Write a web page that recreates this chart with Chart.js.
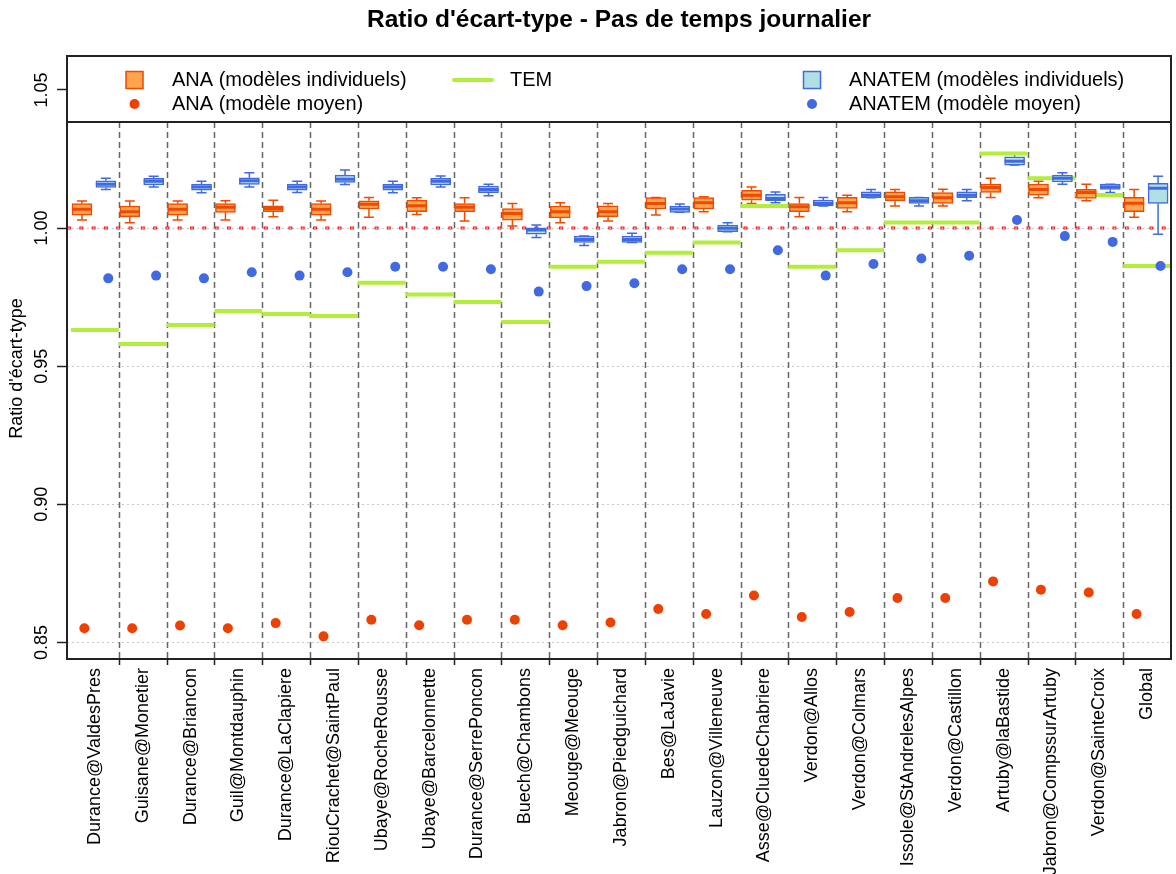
<!DOCTYPE html>
<html><head><meta charset="utf-8">
<script src="https://cdn.jsdelivr.net/npm/chart.js@4.4.1/dist/chart.umd.min.js"></script>
<style>html,body{margin:0;padding:0;background:#fff}canvas{display:block}</style>
</head><body>
<canvas id="c" width="1176" height="874"></canvas>
<script>
// ---------- DATA ----------
const categories = ["Durance@ValdesPres","Guisane@Monetier","Durance@Briancon","Guil@Montdauphin","Durance@LaClapiere","RiouCrachet@SaintPaul","Ubaye@RocheRousse","Ubaye@Barcelonnette","Durance@SerrePoncon","Buech@Chambons","Meouge@Meouge","Jabron@Piedguichard","Bes@LaJavie","Lauzon@Villeneuve","Asse@CluedeChabriere","Verdon@Allos","Verdon@Colmars","Issole@StAndrelesAlpes","Verdon@Castillon","Artuby@laBastide","Jabron@CompssurArtuby","Verdon@SainteCroix","Global"];

const anaMin = [1.0029,1.0019,1.0029,1.0029,1.0041,1.0029,1.0039,1.0049,1.0026,1.0008,1.0019,1.0026,1.0047,1.0059,1.0089,1.0041,1.0059,1.0080,1.0080,1.0111,1.0110,1.0099,1.0039];
const anaQ1  = [1.0047,1.0041,1.0047,1.0057,1.0059,1.0047,1.0069,1.0059,1.0059,1.0029,1.0037,1.0041,1.0069,1.0069,1.0101,1.0059,1.0071,1.0099,1.0089,1.0129,1.0119,1.0107,1.0059];
const anaMed = [1.0068,1.0059,1.0068,1.0075,1.0071,1.0068,1.0086,1.0081,1.0075,1.0053,1.0059,1.0059,1.0089,1.0092,1.0119,1.0077,1.0092,1.0113,1.0110,1.0147,1.0140,1.0129,1.0090];
const anaQ3  = [1.0089,1.0080,1.0089,1.0089,1.0081,1.0089,1.0099,1.0101,1.0089,1.0071,1.0080,1.0081,1.0110,1.0110,1.0137,1.0089,1.0111,1.0131,1.0129,1.0159,1.0159,1.0140,1.0111];
const anaMax = [1.0098,1.0098,1.0098,1.0099,1.0101,1.0098,1.0111,1.0110,1.0110,1.0089,1.0092,1.0089,1.0111,1.0113,1.0149,1.0111,1.0119,1.0140,1.0141,1.0180,1.0170,1.0159,1.0140];

const anatemMin = [1.0140,1.0149,1.0128,1.0149,1.0129,1.0158,1.0128,1.0149,1.0117,0.9966,0.9937,0.9948,1.0057,0.9987,1.0092,1.0080,1.0110,1.0080,1.0099,1.0228,1.0159,1.0129,0.9978];
const anatemQ1  = [1.0147,1.0156,1.0137,1.0158,1.0137,1.0165,1.0137,1.0156,1.0128,0.9978,0.9948,0.9948,1.0057,0.9987,1.0099,1.0080,1.0110,1.0089,1.0110,1.0228,1.0167,1.0140,1.0089];
const anatemMed = [1.0159,1.0170,1.0149,1.0171,1.0149,1.0177,1.0149,1.0170,1.0140,0.9993,0.9959,0.9959,1.0069,0.9999,1.0107,1.0089,1.0119,1.0099,1.0119,1.0242,1.0180,1.0149,1.0144];
const anatemQ3  = [1.0171,1.0180,1.0159,1.0182,1.0159,1.0192,1.0159,1.0180,1.0152,1.0001,0.9971,0.9971,1.0080,1.0011,1.0122,1.0101,1.0131,1.0111,1.0131,1.0258,1.0192,1.0159,1.0162];
const anatemMax = [1.0180,1.0188,1.0170,1.0200,1.0170,1.0210,1.0170,1.0189,1.0159,1.0011,0.9971,0.9981,1.0087,1.0019,1.0131,1.0111,1.0140,1.0111,1.0140,1.0268,1.0200,1.0159,1.0188];

const anaMean    = [0.8551,0.8551,0.8561,0.8551,0.8570,0.8522,0.8582,0.8562,0.8582,0.8582,0.8562,0.8572,0.8621,0.8603,0.8670,0.8592,0.8610,0.8661,0.8661,0.8721,0.8691,0.8681,0.8603];
const anatemMean = [0.9818,0.9828,0.9818,0.9840,0.9828,0.9840,0.9860,0.9860,0.9851,0.9770,0.9790,0.9800,0.9851,0.9851,0.9920,0.9828,0.9870,0.9890,0.9900,1.0029,0.9971,0.9950,0.9863];
const tem        = [0.9631,0.9580,0.9649,0.9700,0.9689,0.9682,0.9802,0.9760,0.9732,0.9660,0.9860,0.9878,0.9911,0.9948,1.0080,0.9860,0.9920,1.0020,1.0020,1.0270,1.0180,1.0120,0.9863];

const yTicks = [0.85, 0.90, 0.95, 1.00, 1.05];
const refValue = 1.00;

const titleText = "Ratio d'écart-type - Pas de temps journalier";
const yTitle = "Ratio d'écart-type";
const legendLabels = ["ANA (modèles individuels)", "ANA (modèle moyen)", "TEM", "ANATEM (modèles individuels)", "ANATEM (modèle moyen)"];

// ---------- STYLE ----------
const FONT = '"Liberation Sans", Arial, sans-serif';
const C_ANA = '#F04A00', C_ANA_FILL = '#FFA54F', C_ANA_PT = '#EE4000';
const C_TEM_B = '#4169E1', C_TEM_FILL = '#B0E0E6';
const C_GREEN = '#B3EE3A';
const ANA_OFF = -0.27, ANATEM_OFF = 0.23, DOT_SHIFT = 0.05;
const BOX_W = 20, CAP_HW = 5, LEGEND_H = 66;

const temData = [];
tem.forEach((v, i) => { temData.push({x: i - 0.5, y: v}, {x: i + 0.5, y: v}, {x: i + 0.5, y: null}); });

function drawWhiskers(ctx, xs, ys, off, lo, q1, q3, hi, color) {
  ctx.save();
  ctx.strokeStyle = color; ctx.lineWidth = 1.5;
  ctx.beginPath();
  categories.forEach((_, i) => {
    const cx = xs.getPixelForValue(i + off);
    ctx.moveTo(cx, ys.getPixelForValue(q3[i])); ctx.lineTo(cx, ys.getPixelForValue(hi[i]));
    ctx.moveTo(cx, ys.getPixelForValue(q1[i])); ctx.lineTo(cx, ys.getPixelForValue(lo[i]));
    ctx.moveTo(cx - CAP_HW, ys.getPixelForValue(hi[i])); ctx.lineTo(cx + CAP_HW, ys.getPixelForValue(hi[i]));
    ctx.moveTo(cx - CAP_HW, ys.getPixelForValue(lo[i])); ctx.lineTo(cx + CAP_HW, ys.getPixelForValue(lo[i]));
  });
  ctx.stroke();
  ctx.restore();
}
function drawMedians(ctx, xs, ys, off, med, color) {
  ctx.save();
  ctx.strokeStyle = color; ctx.lineWidth = 3;
  ctx.beginPath();
  categories.forEach((_, i) => {
    const cx = xs.getPixelForValue(i + off), py = ys.getPixelForValue(med[i]);
    ctx.moveTo(cx - BOX_W / 2, py); ctx.lineTo(cx + BOX_W / 2, py);
  });
  ctx.stroke();
  ctx.restore();
}

const decor = {
  id: 'decor',
  beforeDatasetsDraw(chart) {
    const {ctx, chartArea: a, scales: {x, y}} = chart;
    ctx.save();
    ctx.strokeStyle = '#666666'; ctx.lineWidth = 1.5; ctx.setLineDash([6, 4]);
    ctx.beginPath();
    for (let i = 0; i < categories.length - 1; i++) {
      const px = Math.round(x.getPixelForValue(i + 0.5)) + 0.5;
      ctx.moveTo(px, a.top + LEGEND_H); ctx.lineTo(px, a.bottom);
    }
    ctx.stroke();
    const ry = y.getPixelForValue(refValue);
    ctx.setLineDash([4, 8.3]);
    ctx.strokeStyle = '#FF1a1a'; ctx.lineWidth = 3;
    ctx.beginPath(); ctx.moveTo(a.left, ry); ctx.lineTo(a.right, ry); ctx.stroke();
    ctx.setLineDash([1.6, 10.7]); ctx.lineDashOffset = -1.2;
    ctx.strokeStyle = '#ffffff'; ctx.lineWidth = 1;
    ctx.beginPath(); ctx.moveTo(a.left, ry); ctx.lineTo(a.right, ry); ctx.stroke();
    ctx.restore();
    drawWhiskers(ctx, x, y, ANA_OFF, anaMin, anaQ1, anaQ3, anaMax, C_ANA);
    drawWhiskers(ctx, x, y, ANATEM_OFF, anatemMin, anatemQ1, anatemQ3, anatemMax, C_TEM_B);
  },
  afterDatasetsDraw(chart) {
    const {ctx, chartArea: a, scales: {x, y}} = chart;
    drawMedians(ctx, x, y, ANA_OFF, anaMed, C_ANA);
    drawMedians(ctx, x, y, ANATEM_OFF, anatemMed, C_TEM_B);
    ctx.save();
    ctx.fillStyle = '#fff';
    ctx.fillRect(a.left, a.top, a.right - a.left, LEGEND_H);
    ctx.strokeStyle = '#222'; ctx.lineWidth = 2;
    ctx.beginPath(); ctx.moveTo(a.left, a.top + LEGEND_H); ctx.lineTo(a.right, a.top + LEGEND_H); ctx.stroke();
    const r1 = a.top + 24, r2 = a.top + 48;
    ctx.font = '20px ' + FONT; ctx.textBaseline = 'middle'; ctx.textAlign = 'left';
    ctx.fillStyle = C_ANA_FILL; ctx.strokeStyle = C_ANA; ctx.lineWidth = 1.5;
    ctx.fillRect(126, r1 - 8.5, 17, 17); ctx.strokeRect(126, r1 - 8.5, 17, 17);
    ctx.fillStyle = C_ANA_PT; ctx.beginPath(); ctx.arc(134.5, r2, 5, 0, Math.PI * 2); ctx.fill();
    ctx.fillStyle = '#000';
    ctx.fillText(legendLabels[0], 172, r1); ctx.fillText(legendLabels[1], 172, r2);
    ctx.strokeStyle = C_GREEN; ctx.lineWidth = 4; ctx.lineCap = 'round';
    ctx.beginPath(); ctx.moveTo(454, r1); ctx.lineTo(492, r1); ctx.stroke();
    ctx.lineCap = 'butt';
    ctx.fillText(legendLabels[2], 510, r1);
    ctx.fillStyle = C_TEM_FILL; ctx.strokeStyle = C_TEM_B; ctx.lineWidth = 1.5;
    ctx.fillRect(803.5, r1 - 8.5, 17, 17); ctx.strokeRect(803.5, r1 - 8.5, 17, 17);
    ctx.fillStyle = C_TEM_B; ctx.beginPath(); ctx.arc(812, r2, 5, 0, Math.PI * 2); ctx.fill();
    ctx.fillStyle = '#000';
    ctx.fillText(legendLabels[3], 849, r1); ctx.fillText(legendLabels[4], 849, r2);
    ctx.restore();
  },
  afterDraw(chart) {
    const {ctx, chartArea: a, scales: {x, y}} = chart;
    ctx.save();
    ctx.strokeStyle = '#222'; ctx.lineWidth = 1.5;
    ctx.beginPath();
    for (let i = 0; i < categories.length - 1; i++) {
      const px = Math.round(x.getPixelForValue(i + 0.5)) + 0.5;
      ctx.moveTo(px, a.bottom); ctx.lineTo(px, a.bottom + 6);
    }
    ctx.stroke();
    ctx.strokeStyle = '#222'; ctx.lineWidth = 2;
    ctx.strokeRect(a.left, a.top, a.right - a.left, a.bottom - a.top);
    ctx.fillStyle = '#000'; ctx.font = '18px ' + FONT;
    ctx.textAlign = 'center'; ctx.textBaseline = 'middle';
    yTicks.forEach(v => {
      const py = y.getPixelForValue(v);
      ctx.save(); ctx.translate(42, py); ctx.rotate(-Math.PI / 2);
      ctx.fillText(v.toFixed(2), 0, 0); ctx.restore();
    });
    ctx.save(); ctx.translate(17, (a.top + a.bottom) / 2 + 11); ctx.rotate(-Math.PI / 2);
    ctx.fillText(yTitle, 0, 0); ctx.restore();
    ctx.font = 'bold 24.5px ' + FONT;
    ctx.fillText(titleText, (a.left + a.right) / 2, 20);
    ctx.restore();
  }
};

new Chart(document.getElementById('c'), {
  type: 'scatter',
  data: {
    datasets: [
      { type: 'scatter', label: legendLabels[1], order: 0,
        data: anaMean.map((v, i) => ({x: i + ANA_OFF + DOT_SHIFT, y: v})),
        pointRadius: 5, pointBackgroundColor: C_ANA_PT, pointBorderWidth: 0, showLine: false },
      { type: 'scatter', label: legendLabels[4], order: 0,
        data: anatemMean.map((v, i) => ({x: i + ANATEM_OFF + DOT_SHIFT, y: v})),
        pointRadius: 5, pointBackgroundColor: C_TEM_B, pointBorderWidth: 0, showLine: false },
      { type: 'bar', label: legendLabels[0], order: 1, grouped: false,
        data: categories.map((_, i) => ({x: i + ANA_OFF, y: [anaQ1[i], anaQ3[i]]})),
        backgroundColor: C_ANA_FILL, borderColor: C_ANA, borderWidth: 1.5, borderSkipped: false,
        barThickness: BOX_W, maxBarThickness: BOX_W },
      { type: 'bar', label: legendLabels[3], order: 1, grouped: false,
        data: categories.map((_, i) => ({x: i + ANATEM_OFF, y: [anatemQ1[i], anatemQ3[i]]})),
        backgroundColor: C_TEM_FILL, borderColor: C_TEM_B, borderWidth: 1.5, borderSkipped: false,
        barThickness: BOX_W, maxBarThickness: BOX_W },
      { type: 'line', label: legendLabels[2], order: 2, data: temData,
        borderColor: C_GREEN, borderWidth: 4, pointRadius: 0, spanGaps: false, fill: false, tension: 0 }
    ]
  },
  options: {
    responsive: false, animation: false, events: [],
    layout: { padding: { top: 56, right: 1, left: 0, bottom: 0 } },
    plugins: { legend: { display: false }, tooltip: { enabled: false }, title: { display: false } },
    scales: {
      x: {
        type: 'linear', min: -0.583, max: 22.5, offset: false,
        afterBuildTicks: s => { s.ticks = categories.map((_, i) => ({value: i})); },
        afterFit: s => { s.height = 215; s.paddingLeft = 0; s.paddingRight = 0; },
        grid: { display: false }, border: { display: false },
        ticks: { autoSkip: false, minRotation: 90, maxRotation: 90, padding: 1, color: '#000',
          font: { family: FONT, size: 18 }, callback: v => categories[Math.round(v)] ?? '' }
      },
      y: {
        type: 'linear', min: 0.844, max: 1.0623, beginAtZero: false,
        afterBuildTicks: s => { s.ticks = yTicks.map(v => ({value: v})); },
        afterFit: s => { s.width = 67; s.paddingTop = 0; s.paddingBottom = 0; },
        grid: { color: '#c8c8c8', lineWidth: 1, drawTicks: true, tickLength: 10, tickColor: '#222', tickWidth: 1.5 },
        border: { display: false, dash: [2, 3] },
        ticks: { display: false }
      }
    }
  },
  plugins: [decor]
});
</script>
</body></html>
